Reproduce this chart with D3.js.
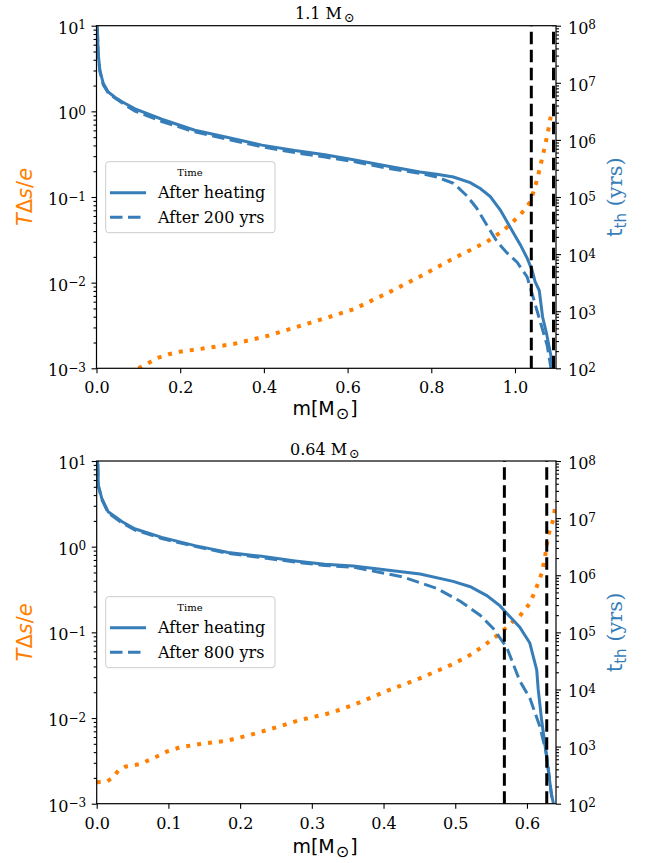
<!DOCTYPE html>
<html>
<head>
<meta charset="utf-8">
<script src="https://cdn.jsdelivr.net/npm/d3@7"></script>
<style>
  body { margin: 0; background: #fff; }
  svg { display: block; }
</style>
</head>
<body>
<script>
// ---- data ----
// top panel, 1.1 Msun
var mTopHeat = [0, 0.001, 0.004, 0.008, 0.016, 0.028, 0.044, 0.06, 0.092, 0.156, 0.235, 0.314, 0.395, 0.474, 0.546, 0.614, 0.694, 0.773, 0.813, 0.853, 0.893, 0.917, 0.941, 0.965, 0.981, 0.997, 1.013, 1.029, 1.041, 1.048, 1.058, 1.066, 1.075, 1.085, 1.091];
var tTopHeat = [7.9e8, 1.6e8, 3.3e7, 1.66e7, 9.8e6, 6.9e6, 5.6e6, 4.7e6, 3.5e6, 2.3e6, 1.48e6, 1.1e6, 8.1e5, 6.5e5, 5.5e5, 4.5e5, 3.5e5, 2.75e5, 2.5e5, 2.24e5, 1.78e5, 1.41e5, 1.02e5, 5.9e4, 3.7e4, 2.3e4, 1.45e4, 8.5e3, 5.2e3, 3.3e3, 2.3e3, 790, 420, 178, 100];
var mTopLater = [0, 0.001, 0.004, 0.008, 0.016, 0.028, 0.044, 0.06, 0.092, 0.156, 0.235, 0.314, 0.395, 0.474, 0.546, 0.614, 0.694, 0.773, 0.813, 0.853, 0.885, 0.909, 0.933, 0.957, 0.981, 1.005, 1.029, 1.045, 1.061, 1.077, 1.086];
var tTopLater = [7.9e8, 1.6e8, 3.2e7, 1.6e7, 9.3e6, 6.6e6, 5.4e6, 4.5e6, 3.2e6, 2.1e6, 1.38e6, 1.02e6, 7.6e5, 6.0e5, 5.0e5, 4.2e5, 3.2e5, 2.6e5, 2.24e5, 1.74e5, 1.05e5, 6.3e4, 3.2e4, 1.66e4, 1.05e4, 7.2e3, 4.0e3, 1.6e3, 630, 250, 100];
var mTopDs = [0.10, 0.12, 0.1435, 0.175, 0.199, 0.247, 0.327, 0.407, 0.486, 0.558, 0.614, 0.694, 0.773, 0.853, 0.933, 0.973, 1.013, 1.037, 1.053, 1.068, 1.078, 1.087];
var dsTop = [1.0e-3, 1.12e-3, 1.31e-3, 1.47e-3, 1.56e-3, 1.68e-3, 1.92e-3, 2.38e-3, 3.12e-3, 4.0e-3, 4.89e-3, 7.5e-3, 0.0118, 0.0192, 0.030, 0.041, 0.062, 0.088, 0.16, 0.33, 0.55, 0.96];
var shellTop = [1.039, 1.092];

// bottom panel, 0.64 Msun
var mBotHeat = [0, 0.001, 0.0022, 0.007, 0.016, 0.035, 0.053, 0.0907, 0.137, 0.1835, 0.23, 0.2766, 0.318, 0.358, 0.4045, 0.451, 0.497, 0.521, 0.544, 0.5625, 0.572, 0.590, 0.604, 0.6136, 0.6157, 0.6206, 0.6276, 0.634, 0.637];
var tBotHeat = [7.9e8, 1.6e8, 3.8e7, 2.24e7, 1.29e7, 8.7e6, 6.5e6, 4.6e6, 3.3e6, 2.5e6, 2.14e6, 1.78e6, 1.55e6, 1.45e6, 1.23e6, 1.05e6, 7.8e5, 6.3e5, 4.4e5, 2.9e5, 2.14e5, 1.23e5, 6.5e4, 2.2e4, 1.0e4, 2.8e3, 630, 150, 100];
var mBotLater = [0, 0.001, 0.0022, 0.007, 0.016, 0.035, 0.053, 0.0907, 0.137, 0.1835, 0.23, 0.2766, 0.318, 0.358, 0.4276, 0.474, 0.507, 0.5346, 0.553, 0.572, 0.590, 0.604, 0.618, 0.627, 0.634, 0.636];
var tBotLater = [7.9e8, 1.6e8, 3.7e7, 2.14e7, 1.23e7, 8.3e6, 6.2e6, 4.4e6, 3.2e6, 2.4e6, 2.04e6, 1.7e6, 1.48e6, 1.38e6, 9.3e5, 5.9e5, 3.5e5, 2.0e5, 1.17e5, 5.4e4, 1.41e4, 7.1e3, 2.24e3, 760, 150, 100];
var mBotDs = [0, 0.014, 0.023, 0.030, 0.0395, 0.060, 0.079, 0.0976, 0.116, 0.144, 0.181, 0.214, 0.246, 0.2836, 0.325, 0.358, 0.4045, 0.4505, 0.497, 0.525, 0.544, 0.5625, 0.581, 0.590, 0.604, 0.613, 0.6206, 0.625, 0.6298, 0.6365, 0.6406];
var dsBot = [1.78e-3, 1.81e-3, 2.03e-3, 2.43e-3, 2.70e-3, 2.9e-3, 3.39e-3, 4.05e-3, 4.55e-3, 4.98e-3, 5.43e-3, 6.34e-3, 7.59e-3, 9.48e-3, 0.0114, 0.0142, 0.0207, 0.029, 0.0427, 0.0569, 0.0744, 0.0975, 0.1355, 0.155, 0.218, 0.33, 0.49, 0.74, 1.37, 2.05, 3.35];
var shellBot = [0.5685, 0.6276];

var xTicksTop = [0, 0.2, 0.4, 0.6, 0.8, 1.0];
var xTicksBot = [0, 0.1, 0.2, 0.3, 0.4, 0.5, 0.6];
var leftTicks = [1e-3, 1e-2, 1e-1, 1e0, 1e1];
var rightTicks = [1e2, 1e3, 1e4, 1e5, 1e6, 1e7, 1e8];
var legendTitle = 'Time';
var legendHeat = 'After heating';

var blue = '#377eb8', orange = '#ff7f00';
var serif = "'DejaVu Serif', serif", sans = "'DejaVu Sans', sans-serif";
var dashBlue = '12.5,5.5';

var svg = d3.select('body').append('svg').attr('width', 647).attr('height', 863);

function minorTicks(lo, hi) {
  var out = [];
  for (var e = lo; e < hi; e++) for (var k = 2; k < 10; k++) out.push(k * Math.pow(10, e));
  return out;
}

// turn tick labels into 10^n with a raised exponent
function powLabels(sel) {
  sel.each(function(d) {
    var e = Math.round(Math.log10(d));
    var t = d3.select(this).text(null);
    t.append('tspan').text('10');
    t.append('tspan').attr('dy', -4.4).style('font-size', '12px').text(e < 0 ? '\u2212' + (-e) : String(e));
  });
}

function drawPanel(p) {
  var x = d3.scaleLinear().domain([0, p.xmax]).range([p.left, p.right]);
  var yL = d3.scaleLog().domain([1e-3, 1e1]).range([p.bottom, p.top]);
  var yR = d3.scaleLog().domain([1e2, 1e8]).range([p.bottom, p.top]);

  svg.append('clipPath').attr('id', 'clip' + p.id)
    .append('rect').attr('x', p.left).attr('y', p.top)
    .attr('width', p.right - p.left).attr('height', p.bottom - p.top);

  var plot = svg.append('g').attr('clip-path', 'url(#clip' + p.id + ')');

  // T ds / e on the left axis
  plot.append('path')
    .datum(d3.zip(p.mDs, p.ds))
    .attr('d', d3.line().x(function(d) { return x(d[0]); }).y(function(d) { return yL(d[1]); }))
    .attr('fill', 'none').attr('stroke', orange).attr('stroke-width', 4)
    .attr('stroke-dasharray', '4,7');

  // thermal times on the right axis
  var lineR = d3.line().x(function(d) { return x(d[0]); }).y(function(d) { return yR(d[1]); });
  plot.append('path')
    .datum(d3.zip(p.mHeat, p.tHeat))
    .attr('d', lineR)
    .attr('fill', 'none').attr('stroke', blue).attr('stroke-width', 3);
  plot.append('path')
    .datum(d3.zip(p.mLater, p.tLater))
    .attr('d', lineR)
    .attr('fill', 'none').attr('stroke', blue).attr('stroke-width', 3)
    .attr('stroke-dasharray', dashBlue);

  // shell boundaries
  plot.selectAll('line.shell').data(p.shells).enter().append('line')
    .attr('x1', function(d) { return x(d); }).attr('x2', function(d) { return x(d); })
    .attr('y1', p.bottom).attr('y2', p.top)
    .attr('stroke', '#000').attr('stroke-width', 3)
    .attr('stroke-dasharray', '12.5,5.5');

  // axes
  svg.append('g').attr('transform', 'translate(0,' + p.bottom + ')')
    .call(d3.axisBottom(x).tickValues(p.xTicks).tickFormat(d3.format('.1f')).tickSize(5).tickPadding(8.6));
  var axL = svg.append('g').attr('transform', 'translate(' + p.left + ',0)')
    .call(d3.axisLeft(yL).tickValues(leftTicks).tickSize(5).tickPadding(5.5));
  axL.selectAll('.tick text').attr('dy', '0.47em').call(powLabels);
  svg.append('g').attr('transform', 'translate(' + p.left + ',0)')
    .call(d3.axisLeft(yL).tickValues(minorTicks(-3, 1)).tickSize(3).tickFormat(''));
  var axR = svg.append('g').attr('transform', 'translate(' + p.right + ',0)')
    .call(d3.axisRight(yR).tickValues(rightTicks).tickSize(5).tickPadding(7));
  axR.selectAll('.tick text').attr('dy', '0.47em').call(powLabels);
  svg.append('g').attr('transform', 'translate(' + p.right + ',0)')
    .call(d3.axisRight(yR).tickValues(minorTicks(2, 8)).tickSize(3).tickFormat(''));

  svg.selectAll('.domain').remove();
  svg.selectAll('.tick line').attr('stroke', '#000').attr('stroke-width', 1.1);
  svg.selectAll('.tick text').attr('fill', '#000').style('font-family', serif).style('font-size', '16px');

  svg.append('rect')
    .attr('x', p.left).attr('y', p.top)
    .attr('width', p.right - p.left).attr('height', p.bottom - p.top)
    .attr('fill', 'none').attr('stroke', '#000').attr('stroke-width', 1.2);

  // title
  var tt = svg.append('text').attr('x', 325).attr('y', p.titleY)
    .attr('text-anchor', 'middle').style('font-family', serif).style('font-size', '16px');
  tt.append('tspan').text(p.title + ' M');
  tt.append('tspan').attr('dx', 2).attr('dy', 3).style('font-size', '13px').text('\u2299');

  // x label
  var xl = svg.append('text').attr('x', 325).attr('y', p.xlabelY)
    .attr('text-anchor', 'middle').style('font-family', sans).style('font-size', '19px');
  xl.append('tspan').text('m[M');
  xl.append('tspan').attr('dx', 1).attr('dy', 4).style('font-size', '16px').text('\u2299');
  xl.append('tspan').attr('dx', 1).attr('dy', -4).text(']');

  var cy = (p.top + p.bottom) / 2;
  // left label
  var yl = svg.append('text').attr('transform', 'translate(32,' + cy + ') rotate(-90)')
    .attr('text-anchor', 'middle').attr('fill', orange)
    .style('font-family', sans).style('font-size', '21px');
  yl.append('tspan').style('font-style', 'italic').text('T');
  yl.append('tspan').text('\u0394');
  yl.append('tspan').style('font-style', 'italic').text('s');
  yl.append('tspan').text('/');
  yl.append('tspan').style('font-style', 'italic').text('e');

  // right label
  var yr = svg.append('text').attr('transform', 'translate(621.5,' + cy + ') rotate(-90)')
    .attr('text-anchor', 'middle').attr('fill', blue).style('font-size', '21px');
  yr.append('tspan').style('font-family', sans).text('t');
  yr.append('tspan').style('font-family', sans).style('font-size', '15px').attr('dy', 4).text('th');
  yr.append('tspan').style('font-family', serif).attr('dy', -4).text(' (yrs)');

  // legend
  var L = p.legendTop;
  var lg = svg.append('g');
  lg.append('rect').attr('x', 105.7).attr('y', L).attr('width', 169.3).attr('height', 71)
    .attr('rx', 3).attr('fill', '#fff').attr('fill-opacity', 0.8)
    .attr('stroke', '#cccccc').attr('stroke-width', 1);
  lg.append('text').attr('x', 190).attr('y', L + 14).attr('text-anchor', 'middle')
    .style('font-family', serif).style('font-size', '10px').text(legendTitle);
  var entries = [[legendHeat, null, L + 31], [p.laterLabel, dashBlue, L + 55.5]];
  entries.forEach(function(e) {
    lg.append('line').attr('x1', 110).attr('x2', 146).attr('y1', e[2]).attr('y2', e[2])
      .attr('stroke', blue).attr('stroke-width', 3).attr('stroke-dasharray', e[1]);
    lg.append('text').attr('x', 158).attr('y', e[2] + 5.5)
      .style('font-family', serif).style('font-size', '16px').text(e[0]);
  });
}

drawPanel({
  id: 'top', left: 96.5, right: 556, top: 25.7, bottom: 368.3, xmax: 1.098,
  xTicks: xTicksTop, title: '1.1', titleY: 18.5, xlabelY: 415, legendTop: 161.7,
  laterLabel: 'After 200 yrs',
  mHeat: mTopHeat, tHeat: tTopHeat, mLater: mTopLater, tLater: tTopLater,
  mDs: mTopDs, ds: dsTop, shells: shellTop
});
drawPanel({
  id: 'bot', left: 96.7, right: 556, top: 461, bottom: 803.7, xmax: 0.6405,
  xTicks: xTicksBot, title: '0.64', titleY: 455, xlabelY: 853, legendTop: 596.7,
  laterLabel: 'After 800 yrs',
  mHeat: mBotHeat, tHeat: tBotHeat, mLater: mBotLater, tLater: tBotLater,
  mDs: mBotDs, ds: dsBot, shells: shellBot
});
</script>
</body>
</html>
